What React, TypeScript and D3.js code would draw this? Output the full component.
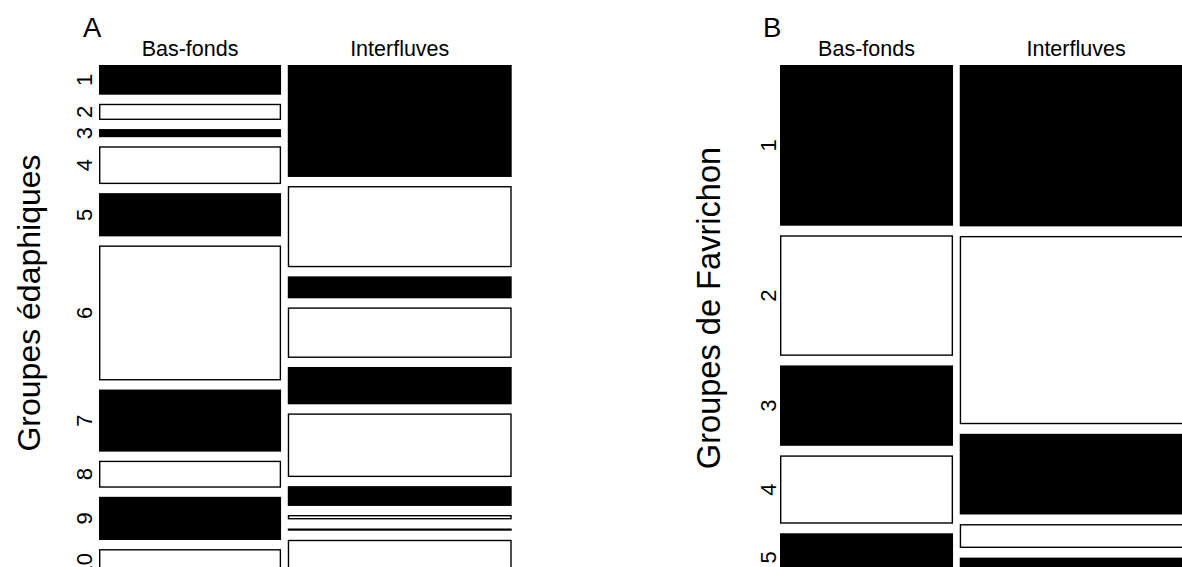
import React from "react";
import * as d3 from "d3";

// ---- Data (counts read from the mosaic) ----
const habitats = ["Bas-fonds", "Interfluves"];

const edaphicGroups = ["1", "2", "3", "4", "5", "6", "7", "8", "9", "10"];
const edaphicBasFonds = [11, 6, 3, 14, 16, 50, 23, 10, 16, 12];
const edaphicInterfluves = [51, 37, 10, 23, 17, 29, 9, 2, 1, 19];

const favrichonGroups = ["1", "2", "3", "4", "5"];
const favrichonBasFonds = [40, 30, 20, 17, 12];
const favrichonInterfluves = [54, 63, 27, 8, 8];

const FONT = "'Liberation Sans', Arial, Helvetica, sans-serif";

type PanelProps = {
  letter: string;
  ylab: string;
  groups: string[];
  series: number[][];
  x0: number;
  width: number;
  top: number;
  bottom: number;
  colGap: number;
  rowGap: number;
  rowLabelX: number;
  ylabX: number;
  ylabY: number;
  ylabSize: number;
  letterX: number;
};

function Panel(p: PanelProps) {
  const totals = p.series.map((s) => d3.sum(s));
  const grand = d3.sum(totals);
  const xs = d3
    .scaleLinear()
    .domain([0, grand])
    .range([0, p.width - p.colGap * (p.series.length - 1)]);
  const cumCols = [0, ...d3.cumsum(totals)];
  const H = p.bottom - p.top - p.rowGap * (p.groups.length - 1);

  const cells: any[] = [];
  const headers: any[] = [];
  const rowLabels: any[] = [];

  p.series.forEach((s, j) => {
    const cx0 = p.x0 + xs(cumCols[j]) + j * p.colGap;
    const cx1 = p.x0 + xs(cumCols[j + 1]) + j * p.colGap;
    const ys = d3.scaleLinear().domain([0, totals[j]]).range([0, H]);
    const cum = [0, ...d3.cumsum(s)];
    headers.push(
      <text
        key={"h" + j}
        x={(cx0 + cx1) / 2}
        y={55.5}
        textAnchor="middle"
        fontSize={21.5}
        fontFamily={FONT}
      >
        {habitats[j]}
      </text>
    );
    s.forEach((v, i) => {
      const y0 = p.top + ys(cum[i]) + i * p.rowGap;
      const y1 = p.top + ys(cum[i + 1]) + i * p.rowGap;
      const black = i % 2 === 0;
      cells.push(
        <rect
          key={`c${j}-${i}`}
          x={cx0 + 0.7}
          y={y0 + 0.7}
          width={Math.max(cx1 - cx0 - 1.4, 0)}
          height={Math.max(y1 - y0 - 1.4, 0.1)}
          fill={black ? "#000" : "#fff"}
          stroke="#000"
          strokeWidth={1.4}
        />
      );
      if (j === 0) {
        const yc = (y0 + y1) / 2;
        rowLabels.push(
          <text
            key={"r" + i}
            transform={`translate(${p.rowLabelX},${yc}) rotate(-90)`}
            textAnchor="middle"
            fontSize={22}
            fontFamily={FONT}
          >
            {p.groups[i]}
          </text>
        );
      }
    });
  });

  return (
    <g>
      <text x={p.letterX} y={37} fontSize={27.5} fontFamily={FONT}>
        {p.letter}
      </text>
      {headers}
      {cells}
      {rowLabels}
      <text
        transform={`translate(${p.ylabX},${p.ylabY}) rotate(-90)`}
        textAnchor="middle"
        fontSize={p.ylabSize}
        fontFamily={FONT}
      >
        {p.ylab}
      </text>
    </g>
  );
}

export default function App() {
  return (
    <svg
      width={1182}
      height={567}
      style={{ position: "absolute", left: 0, top: 0, background: "#fff", overflow: "hidden" }}
    >
      <rect x={0} y={0} width={1182} height={567} fill="#fff" />
      <Panel
        letter="A"
        ylab="Groupes édaphiques"
        groups={edaphicGroups}
        series={[edaphicBasFonds, edaphicInterfluves]}
        x0={99}
        width={412.7}
        top={65}
        bottom={581.5}
        colGap={6.7}
        rowGap={9.1}
        rowLabelX={92}
        ylabX={40}
        ylabY={303}
        ylabSize={32}
        letterX={83}
      />
      <Panel
        letter="B"
        ylab="Groupes de Favrichon"
        groups={favrichonGroups}
        series={[favrichonBasFonds, favrichonInterfluves]}
        x0={780}
        width={412.4}
        top={65}
        bottom={581.5}
        colGap={6.7}
        rowGap={9.6}
        rowLabelX={776}
        ylabX={720}
        ylabY={308}
        ylabSize={32.6}
        letterX={763}
      />
    </svg>
  );
}
